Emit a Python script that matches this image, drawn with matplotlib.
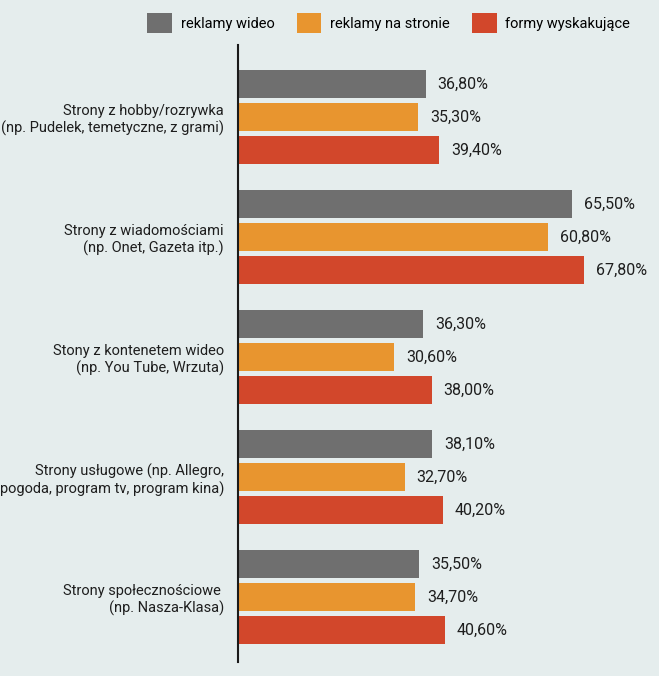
import numpy as np
import matplotlib.pyplot as plt
from matplotlib.patches import Patch
from matplotlib import font_manager

# Dane wykresu
kategorie = [
    "Strony z hobby/rozrywka\n(np. Pudelek, temetyczne, z grami)",
    "Strony z wiadomościami\n(np. Onet, Gazeta itp.)",
    "Stony z kontenetem wideo\n(np. You Tube, Wrzuta)",
    "Strony usługowe (np. Allegro,\npogoda, program tv, program kina)",
    "Strony społecznościowe \n(np. Nasza-Klasa)",
]
serie = ["reklamy wideo", "reklamy na stronie", "formy wyskakujące"]
wideo = [36.8, 65.5, 36.3, 38.1, 35.5]
na_stronie = [35.3, 60.8, 30.6, 32.7, 34.7]
wyskakujace = [39.4, 67.8, 38.0, 40.2, 40.6]

kolory = ["#6f6f6f", "#e8952f", "#d2472b"]
tlo = "#e5eded"

nazwy = {f.name for f in font_manager.fontManager.ttflist}
rodzina = ["Liberation Sans Narrow", "DejaVu Sans"] if "Liberation Sans Narrow" in nazwy else ["Roboto", "DejaVu Sans"]
plt.rcParams['font.family'] = rodzina

fig = plt.figure(figsize=(6.59, 6.76), dpi=100, facecolor=tlo)
ax = fig.add_axes([238 / 659, 14 / 676, 421 / 659, 617 / 676])
ax.set_facecolor(tlo)

y = np.arange(len(kategorie))
odstep = 0.275
wysokosc = 0.232
for k, (wartosci, kolor) in enumerate(zip([wideo, na_stronie, wyskakujace], kolory)):
    pozycje = y + (k - 1) * odstep
    ax.barh(pozycje, wartosci, height=wysokosc, color=kolor, label=serie[k])
    for p, v in zip(pozycje, wartosci):
        ax.text(v + 2.3, p, f"{v:.2f}%".replace(".", ","), va="center", ha="left",
                fontsize=11.5, color="#1e1e1e")

ax.set_xlim(0, 82.5)
ax.set_ylim(4.54, -0.6)
ax.set_yticks(y, kategorie, fontsize=10.5, color="#1e1e1e")
ax.tick_params(axis="y", length=0, pad=10)
ax.set_xticks([])
for s in ["top", "right", "bottom"]:
    ax.spines[s].set_visible(False)
ax.spines["left"].set_linewidth(1.5)
ax.spines["left"].set_color("#1a1a1a")
for t in ax.get_yticklabels():
    t.set_multialignment("right")

uchwyty = [Patch(facecolor=c) for c in kolory]
fig.legend(uchwyty, serie, loc="center", bbox_to_anchor=(0.59, 0.966), ncol=3,
           frameon=False, fontsize=10.5, handlelength=1.7, handleheight=1.7,
           columnspacing=1.5, handletextpad=0.6)

plt.savefig("out.png", dpi=100, facecolor=tlo)
